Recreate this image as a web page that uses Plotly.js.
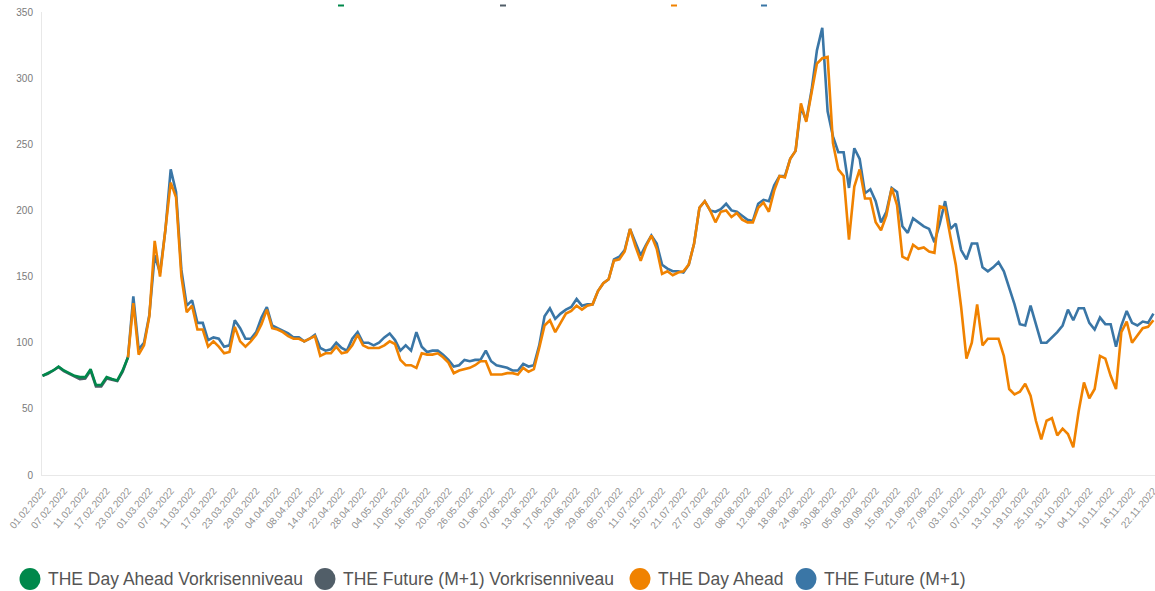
<!DOCTYPE html>
<html>
<head>
<meta charset="utf-8">
<script src="https://cdn.plot.ly/plotly-3.0.1.min.js"></script>
<style>html,body{margin:0;padding:0;background:#fff;}#chart{width:1155px;height:591px;}</style>
</head>
<body>
<div id="chart"></div>
<script>
// Trading days (categories)
const dates = [
"01.02.2022","02.02.2022","03.02.2022","04.02.2022","07.02.2022","08.02.2022","09.02.2022","10.02.2022","11.02.2022","14.02.2022",
"15.02.2022","16.02.2022","17.02.2022","18.02.2022","21.02.2022","22.02.2022","23.02.2022","24.02.2022","25.02.2022","28.02.2022",
"01.03.2022","02.03.2022","03.03.2022","04.03.2022","07.03.2022","08.03.2022","09.03.2022","10.03.2022","11.03.2022","14.03.2022",
"15.03.2022","16.03.2022","17.03.2022","18.03.2022","21.03.2022","22.03.2022","23.03.2022","24.03.2022","25.03.2022","28.03.2022",
"29.03.2022","30.03.2022","31.03.2022","01.04.2022","04.04.2022","05.04.2022","06.04.2022","07.04.2022","08.04.2022","11.04.2022",
"12.04.2022","13.04.2022","14.04.2022","19.04.2022","20.04.2022","21.04.2022","22.04.2022","25.04.2022","26.04.2022","27.04.2022",
"28.04.2022","29.04.2022","02.05.2022","03.05.2022","04.05.2022","05.05.2022","06.05.2022","09.05.2022","10.05.2022","11.05.2022",
"12.05.2022","13.05.2022","16.05.2022","17.05.2022","18.05.2022","19.05.2022","20.05.2022","23.05.2022","24.05.2022","25.05.2022",
"26.05.2022","27.05.2022","30.05.2022","31.05.2022","01.06.2022","02.06.2022","03.06.2022","06.06.2022","07.06.2022","08.06.2022",
"09.06.2022","10.06.2022","13.06.2022","14.06.2022","15.06.2022","16.06.2022","17.06.2022","20.06.2022","21.06.2022","22.06.2022",
"23.06.2022","24.06.2022","27.06.2022","28.06.2022","29.06.2022","30.06.2022","01.07.2022","04.07.2022","05.07.2022","06.07.2022",
"07.07.2022","08.07.2022","11.07.2022","12.07.2022","13.07.2022","14.07.2022","15.07.2022","18.07.2022","19.07.2022","20.07.2022",
"21.07.2022","22.07.2022","25.07.2022","26.07.2022","27.07.2022","28.07.2022","29.07.2022","01.08.2022","02.08.2022","03.08.2022",
"04.08.2022","05.08.2022","08.08.2022","09.08.2022","10.08.2022","11.08.2022","12.08.2022","15.08.2022","16.08.2022","17.08.2022",
"18.08.2022","19.08.2022","22.08.2022","23.08.2022","24.08.2022","25.08.2022","26.08.2022","29.08.2022","30.08.2022","31.08.2022",
"01.09.2022","02.09.2022","05.09.2022","06.09.2022","07.09.2022","08.09.2022","09.09.2022","12.09.2022","13.09.2022","14.09.2022",
"15.09.2022","16.09.2022","19.09.2022","20.09.2022","21.09.2022","22.09.2022","23.09.2022","26.09.2022","27.09.2022","28.09.2022",
"29.09.2022","30.09.2022","03.10.2022","04.10.2022","05.10.2022","06.10.2022","07.10.2022","10.10.2022","11.10.2022","12.10.2022",
"13.10.2022","14.10.2022","17.10.2022","18.10.2022","19.10.2022","20.10.2022","21.10.2022","24.10.2022","25.10.2022","26.10.2022",
"27.10.2022","28.10.2022","31.10.2022","01.11.2022","02.11.2022","03.11.2022","04.11.2022","07.11.2022","08.11.2022","09.11.2022",
"10.11.2022","11.11.2022","14.11.2022","15.11.2022","16.11.2022","17.11.2022","18.11.2022","21.11.2022","22.11.2022"
];

const tickLabels = [
"01.02.2022","07.02.2022","11.02.2022","17.02.2022","23.02.2022","01.03.2022","07.03.2022","11.03.2022","17.03.2022","23.03.2022",
"29.03.2022","04.04.2022","08.04.2022","14.04.2022","22.04.2022","28.04.2022","04.05.2022","10.05.2022","16.05.2022","20.05.2022",
"26.05.2022","01.06.2022","07.06.2022","13.06.2022","17.06.2022","23.06.2022","29.06.2022","05.07.2022","11.07.2022","15.07.2022",
"21.07.2022","27.07.2022","02.08.2022","08.08.2022","12.08.2022","18.08.2022","24.08.2022","30.08.2022","05.09.2022","09.09.2022",
"15.09.2022","21.09.2022","27.09.2022","03.10.2022","07.10.2022","13.10.2022","19.10.2022","25.10.2022","31.10.2022","04.11.2022",
"10.11.2022","16.11.2022","22.11.2022"
];

// Pre-crisis series: 01.02.2022 – 23.02.2022
const preDates = dates.slice(0, 17);
const dayAheadPre = [75,77,79,82,79,77,75,74,74,80,68,68,74,72.5,71.5,79,89];
const futurePre   = [75,76.5,79,81.5,78.5,76.5,75,72.5,73,79,67,67,73,72,71,78,89];

// Crisis series: 23.02.2022 – 22.11.2022
const crisisDates = dates.slice(16);
const dayAhead = [
89,130,91,98,120,177,150,185,221,210,
150,123,128,110,110,97,101,97,92,93,
112,101,97,101,106,114,125,111,110,108,
105,103,103,101,103,105,90,92,92,97,
92,93,98,106,98,96,96,96,98,101,
99,87,83,83,81,92,91,91,92,89,
85,77,79,80,81,83,86,86,76,76,
76,77,77,76,81,78,80,96,113,117,
108,115,122,124,128,125,128,129,139,145,
148,162,163,169,186,173,162,173,181,171,
152,154,151,153,154,159,175,202,207,200,
191,199,200,195,198,193,191,191,202,206,
199,215,226,225,239,245,281,267,290,311,
315,316,251,231,226,178,218,231,209,209,
191,185,196,217,204,165,163,174,171,172,
169,168,203,202,180,159,127,88,100,129,
98,103,103,103,90,65,61,63,69,60,
41,27,41,43,30,35,31,21,48,70,
58,65,90,88,75,65,108,116,100,106,
111,112,117
];
const future = [
89,135,95,100,121,166,153,185,231,214,
155,128,132,115,115,102,104,103,97,98,
117,111,103,103,108,119,127,113,111,109,
107,104,104,101,103,106,96,94,95,100,
96,94,103,108,100,100,98,100,104,107,
102,94,98,94,108,97,93,94,94,91,
87,82,83,87,86,87,87,94,86,83,
82,81,79,79,84,82,83,98,120,126,
118,122,125,127,133,128,129,129,139,145,
148,163,165,170,186,176,166,174,181,175,
159,156,154,154,153,159,175,202,207,200,
199,201,205,200,199,196,193,192,205,208,
207,219,226,226,239,245,278,268,291,321,
338,275,256,244,244,217,247,239,213,216,
207,191,199,217,214,188,183,194,191,188,
186,176,190,207,186,190,170,163,175,175,
157,154,157,161,154,142,129,114,113,128,
114,100,100,104,108,113,125,117,126,126,
115,110,119,114,114,97,113,124,115,113,
116,115,122
];

const seriesNames = ["THE Day Ahead Vorkrisenniveau","THE Future (M+1) Vorkrisenniveau","THE Day Ahead","THE Future (M+1)"];
const colors = {green:"#00884b", gray:"#515e68", orange:"#f08200", blue:"#3a76a6"};
const legendColors = [colors.green, colors.gray, colors.orange, colors.blue];

const LW = 2.6;
const traces = [
  {x: preDates, y: futurePre, name: seriesNames[1], type:"scatter", mode:"lines", line:{color:colors.gray, width:LW}, showlegend:false, hoverinfo:"skip"},
  {x: preDates, y: dayAheadPre, name: seriesNames[0], type:"scatter", mode:"lines", line:{color:colors.green, width:LW}, showlegend:false, hoverinfo:"skip"},
  {x: crisisDates, y: future, name: seriesNames[3], type:"scatter", mode:"lines", line:{color:colors.blue, width:LW}, showlegend:false, hoverinfo:"skip"},
  {x: crisisDates, y: dayAhead, name: seriesNames[2], type:"scatter", mode:"lines", line:{color:colors.orange, width:LW}, showlegend:false, hoverinfo:"skip"}
];

// Plot area geometry (pixels) used to place the manual legend
const PL = 42, PW = 1113, PB = 475, PH = 463;
const px2x = px => (px - PL) / PW;
const py2y = py => (PB - py) / PH;

const shapes = [];
const annotations = [];

// Cut-off marks at the top of the reference (remnants of an upper legend)
[341, 503, 674, 764].forEach((px, k) => {
  shapes.push({type:"line", xref:"paper", yref:"paper",
    x0:px2x(px - 3), x1:px2x(px + 3), y0:py2y(5.5), y1:py2y(5.5),
    line:{color:legendColors[k], width:2}});
});

// Bottom legend: circle + text
const legendCircleX = [30, 325, 640, 806];
const legendY = 579;
seriesNames.forEach((n, k) => {
  shapes.push({type:"circle", xref:"paper", yref:"paper", xsizemode:"pixel", ysizemode:"pixel",
    xanchor:px2x(legendCircleX[k]), yanchor:py2y(legendY),
    x0:-10.5, x1:10.5, y0:-11, y1:11,
    fillcolor:legendColors[k], line:{width:0}});
  annotations.push({xref:"paper", yref:"paper", x:px2x(legendCircleX[k] + 16), y:py2y(legendY),
    xanchor:"left", yanchor:"middle", showarrow:false, text:n,
    font:{size:17.5, color:"#555555"}});
});

const layout = {
  width:1155, height:591,
  margin:{l:PL, r:0, t:12, b:116},
  paper_bgcolor:"#ffffff", plot_bgcolor:"#ffffff",
  font:{family:"Liberation Sans, Arial, sans-serif"},
  showlegend:false,
  xaxis:{
    type:"category", range:[-0.1, 208.3], showgrid:false, zeroline:false,
    showline:true, linecolor:"#e8e8e8", linewidth:1,
    tickmode:"array", tickvals:tickLabels, ticktext:tickLabels, tickangle:-50,
    ticks:"", ticklabelstandoff:5, tickfont:{size:10, color:"#8f8f8f"}
  },
  yaxis:{
    range:[0,350], dtick:50, tick0:0, showgrid:false, zeroline:false,
    showline:true, linecolor:"#e8e8e8", linewidth:1,
    ticks:"", ticklabelstandoff:6, tickfont:{size:10, color:"#7a7a7a"}
  },
  shapes: shapes,
  annotations: annotations
};

Plotly.newPlot("chart", traces, layout, {displayModeBar:false, staticPlot:true});
</script>
</body>
</html>
